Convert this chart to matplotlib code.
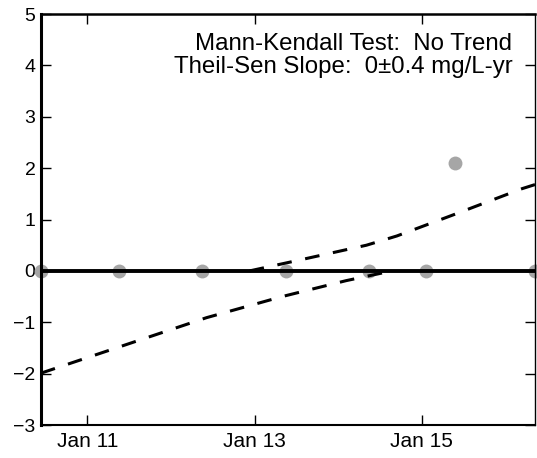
import matplotlib
matplotlib.use("Agg")
import matplotlib.pyplot as plt
import numpy as np

plt.rcParams["font.family"] = ["Liberation Sans", "DejaVu Sans"]

# sample dates and concentrations (mg/L)
sample_dates = np.array(
    ["2010-06-12", "2011-05-20", "2012-05-18", "2013-05-20",
     "2014-05-18", "2015-01-22", "2015-05-25", "2016-05-11"],
    dtype="datetime64[D]",
)
sample_values = [0, 0, 0, 0, 0, 0, 2.1, 0]

# Theil-Sen trend line
trend_dates = np.array(["2010-06-12", "2016-05-11"], dtype="datetime64[D]")
trend_values = [0, 0]

# confidence band (upper / lower), parts lying on zero are hidden by the trend
upper_dates = np.array(
    ["2012-12-10", "2013-07-15", "2014-05-05", "2014-09-15",
     "2015-05-25", "2016-03-15", "2016-05-11"],
    dtype="datetime64[D]",
)
upper_values = [0, 0.21, 0.5, 0.68, 1.1, 1.6, 1.68]

lower_dates = np.array(
    ["2010-06-12", "2011-05-20", "2012-06-05", "2013-05-01", "2014-02-05",
     "2014-08-25"],
    dtype="datetime64[D]",
)
lower_values = [-1.99, -1.48, -0.91, -0.5, -0.19, 0]

annotation = "Mann-Kendall Test:  No Trend\nTheil-Sen Slope:  0\u00b10.4 mg/L-yr"
xtick_dates = np.array(["2011-01-01", "2013-01-01", "2015-01-01"], dtype="datetime64[D]")
xtick_labels = ["Jan 11", "Jan 13", "Jan 15"]

fig = plt.figure(figsize=(5.37, 4.58), dpi=100)
ax = fig.add_axes([0.0764, 0.072, 0.9199, 0.8974])

ax.scatter(sample_dates, sample_values, s=100, color="#a6a6a6", zorder=2,
           clip_on=False, linewidths=0)
ax.plot(trend_dates, trend_values, color="black", lw=2.8, zorder=3)
dash = (0, (4.8, 4.5))
ax.plot(upper_dates, upper_values, color="black", lw=2.2, ls=dash, zorder=3)
ax.plot(lower_dates, lower_values, color="black", lw=2.2, ls=dash, zorder=3)

ax.set_xlim(sample_dates[0], sample_dates[-1])
ax.set_ylim(-3, 5)
ax.set_yticks(range(-3, 6))
ax.set_xticks(xtick_dates)
ax.set_xticklabels(xtick_labels)

ax.tick_params(direction="in", length=7, width=1, labelsize=14,
               top=True, right=True, pad=5)
ax.tick_params(axis="x", labelsize=15)
ax.tick_params(axis="y", pad=4)
for side, w in [("left", 2.2), ("bottom", 1.5), ("top", 1.8), ("right", 1.0)]:
    ax.spines[side].set_linewidth(w)

ax.text(0.954, 0.955, annotation, transform=ax.transAxes, ha="right", va="top",
        fontsize=17.3, linespacing=1.1)

fig.savefig("out.png", dpi=100)
